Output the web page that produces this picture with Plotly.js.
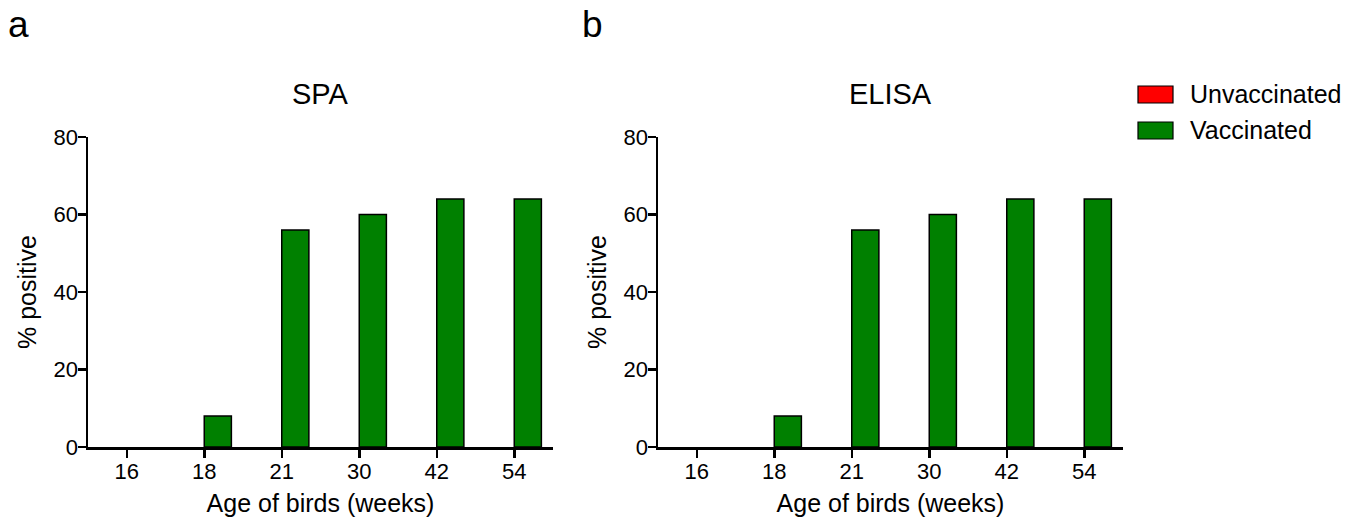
<!DOCTYPE html>
<html><head><meta charset="utf-8">
<script src="https://cdn.plot.ly/plotly-3.0.1.min.js"></script>
<style>html,body{margin:0;padding:0;background:#fff}#c{width:1357px;height:523px}</style>
</head><body><div id="c"></div>
<script>
const ages = ['16','18','21','30','42','54'];
const spaUnvaccinated = [0,0,0,0,0,0];
const spaVaccinated = [0,8,56,60,64,64];
const elisaUnvaccinated = [0,0,0,0,0,0];
const elisaVaccinated = [0,8,56,60,64,64];
const seriesNames = ['Unvaccinated','Vaccinated'];
const seriesColors = ['#ff0000','#008000'];
const panelTitles = ['SPA','ELISA'];
const panelLetters = ['a','b'];
const yTicks = [0,20,40,60,80];

const FONT = 'Liberation Sans, Arial, sans-serif';
function bar(x, y, i, xa, ya){
  return {type:'bar', x:x, y:y, name:seriesNames[i], xaxis:xa, yaxis:ya, showlegend:false,
    marker:{color:seriesColors[i], line:{color:'#000', width:y.map(v=>v===0?0:1.5)}}};
}
const data = [
  bar(ages, spaUnvaccinated, 0, 'x','y'),
  bar(ages, spaVaccinated, 1, 'x','y'),
  bar(ages, elisaUnvaccinated, 0, 'x2','y2'),
  bar(ages, elisaVaccinated, 1, 'x2','y2')
];
const W=1357,H=523;
const px = v=>v/W, py = v=>(H-v)/H;
function xax(d){return {domain:d, type:'category', range:[-0.5,5.5], showline:true, linewidth:2.5, linecolor:'#000',
  ticks:'outside', ticklen:8, tickwidth:2.5, tickcolor:'#000', showgrid:false, zeroline:false, fixedrange:true,
  ticklabelstandoff:-5,
  tickfont:{size:22,color:'#000',family:FONT},
  title:{text:'Age of birds (weeks)', font:{size:25,color:'#000',family:FONT}, standoff:12}};}
function yax(anchor){return {domain:[py(447),py(137)], anchor:anchor, range:[0,80], tickvals:yTicks, showline:true, linewidth:2.5, linecolor:'#000',
  ticks:'outside', ticklen:8, tickwidth:2.5, tickcolor:'#000', showgrid:false, zeroline:false,
  ticklabelstandoff:-5,
  tickfont:{size:22,color:'#000',family:FONT},
  title:{text:'% positive', font:{size:25,color:'#000',family:FONT}, standoff:10}};}
function ann(text, x, y, size, xanchor){
  return {text:text, x:px(x), y:py(y), xref:'paper', yref:'paper', xanchor:xanchor||'center', yanchor:'middle',
    showarrow:false, font:{size:size,family:FONT,color:'#000'}};
}
const layout = {
  width:W, height:H, margin:{l:0,r:0,t:0,b:0}, paper_bgcolor:'#fff', plot_bgcolor:'#fff',
  barmode:'group', bargap:0.3, bargroupgap:0, showlegend:false,
  font:{family:FONT,color:'#000'},
  xaxis:Object.assign(xax([px(88),px(553)]),{anchor:'y'}),
  yaxis:yax('x'),
  xaxis2:Object.assign(xax([px(658),px(1123)]),{anchor:'y2'}),
  yaxis2:yax('x2'),
  annotations:[
    ann(panelTitles[0], 320.5, 94, 29),
    ann(panelTitles[1], 890.5, 94, 29),
    ann(panelLetters[0], 6, 24, 37, 'left'),
    ann(panelLetters[1], 580, 24, 37, 'left'),
    ann(seriesNames[0], 1188, 94, 25, 'left'),
    ann(seriesNames[1], 1188, 130, 25, 'left')
  ],
  shapes:[
    {type:'rect', xref:'paper', yref:'paper', x0:px(1138), x1:px(1173), y0:py(103), y1:py(86), fillcolor:seriesColors[0], line:{color:'#000',width:1.2}},
    {type:'rect', xref:'paper', yref:'paper', x0:px(1138), x1:px(1173), y0:py(139), y1:py(122), fillcolor:seriesColors[1], line:{color:'#000',width:1.2}}
  ]
};
Plotly.newPlot('c', data, layout, {staticPlot:true, displayModeBar:false});
</script></body></html>
